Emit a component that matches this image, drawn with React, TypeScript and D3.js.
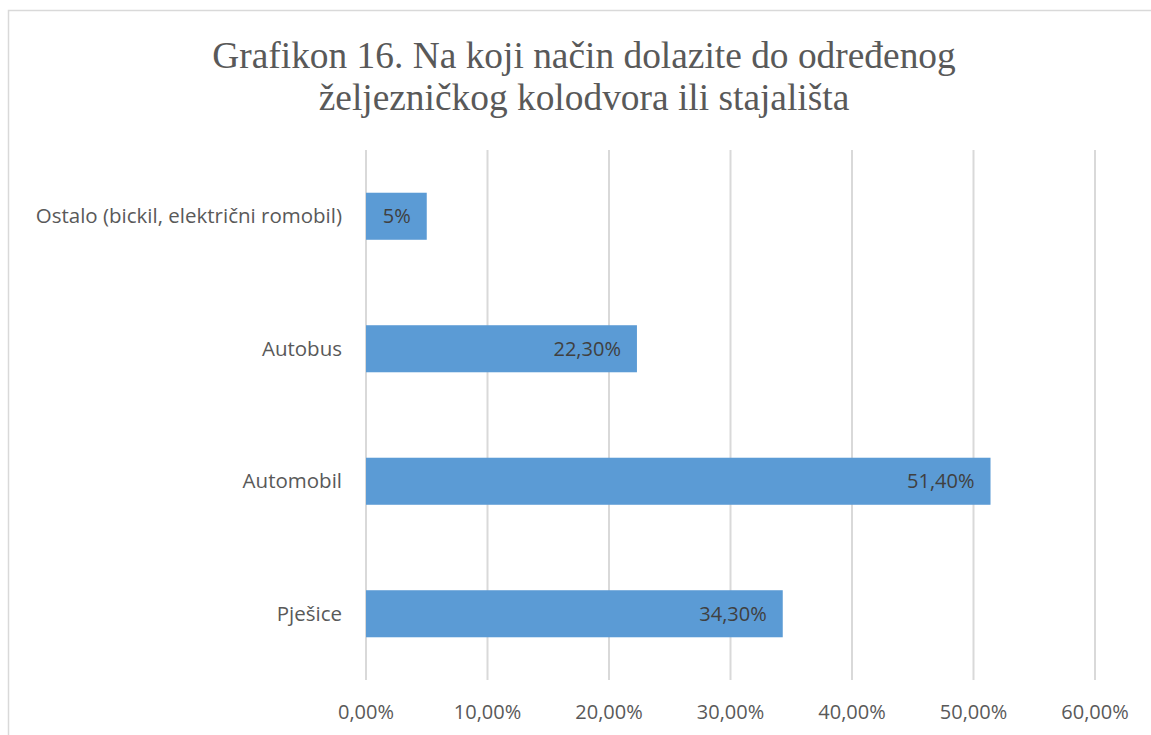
import React from "react";
import * as d3 from "d3";

const categories = ["Ostalo (bickil, električni romobil)", "Autobus", "Automobil", "Pješice"];
const values = [5, 22.3, 51.4, 34.3];
const valueLabels = ["5%", "22,30%", "51,40%", "34,30%"];
const ticks = [0, 10, 20, 30, 40, 50, 60];
const titleLines = ["Grafikon 16. Na koji način dolazite do određenog", "željezničkog kolodvora ili stajališta"];

const W = 1151;
const H = 735;
const margin = { top: 150, right: 56, bottom: 55, left: 366 };

const App = () => {
  const x = d3.scaleLinear().domain([0, 60]).range([margin.left, W - margin.right]);
  const y = d3
    .scaleBand<string>()
    .domain(categories)
    .range([margin.top, H - margin.bottom])
    .paddingInner(0.645)
    .paddingOuter(0.3225);
  const fmt = (t: number) => d3.format(".2f")(t).replace(".", ",") + "%";
  const font = "'Open Sans', sans-serif";

  return (
    <svg width={W} height={H} style={{ position: "absolute", left: 0, top: 0 }}>
      <rect x={0} y={0} width={W} height={H} fill="#fff" />
      <rect x={8.5} y={10.5} width={W + 20} height={H + 20} fill="none" stroke="#d9d9d9" strokeWidth={1.5} />
      {titleLines.map((t, i) => (
        <text
          key={i}
          x={584}
          y={68 + i * 42}
          textAnchor="middle"
          fill="#595959"
          fontSize={37.4}
          fontFamily="'Liberation Serif', 'Times New Roman', serif"
        >
          {t}
        </text>
      ))}
      {ticks.map(t => (
        <g key={t}>
          <line x1={x(t)} x2={x(t)} y1={margin.top} y2={H - margin.bottom} stroke="#d9d9d9" strokeWidth={2} />
          <text x={x(t)} y={719} textAnchor="middle" fill="#595959" fontSize={20} fontFamily={font}>
            {fmt(t)}
          </text>
        </g>
      ))}
      {categories.map((c, i) => (
        <g key={c}>
          <rect x={x(0)} y={y(c)} width={x(values[i]) - x(0)} height={y.bandwidth()} fill="#5b9bd5" />
          <text
            x={x(values[i]) - 16}
            y={(y(c) as number) + y.bandwidth() / 2}
            dy="0.35em"
            textAnchor="end"
            fill="#404040"
            fontSize={20}
            fontFamily={font}
          >
            {valueLabels[i]}
          </text>
          <text
            x={342}
            y={(y(c) as number) + y.bandwidth() / 2}
            dy="0.35em"
            textAnchor="end"
            fill="#595959"
            fontSize={20.5}
            fontFamily={font}
          >
            {c}
          </text>
        </g>
      ))}
    </svg>
  );
};

export default App;
